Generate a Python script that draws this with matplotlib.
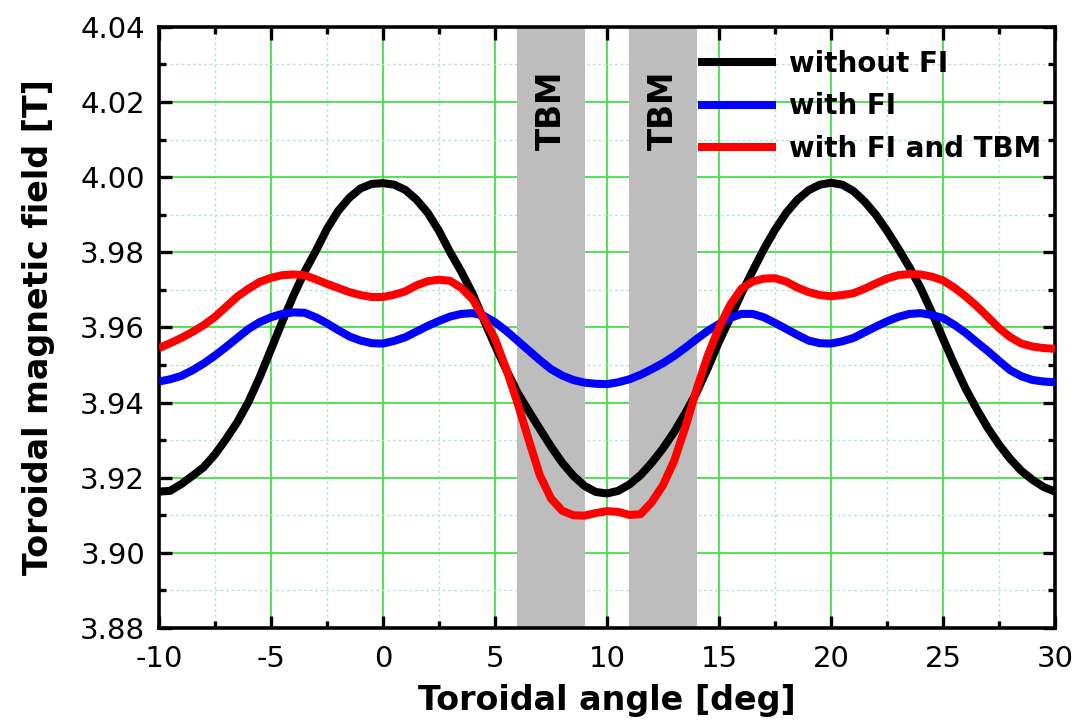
import numpy as np
import matplotlib
matplotlib.use("Agg")
import matplotlib.pyplot as plt
from matplotlib.ticker import MultipleLocator

# toroidal angle, 0.5 deg steps over two ripple periods
angle = np.arange(-10, 30.01, 0.5)

without_fi = [
    3.9163, 3.9165, 3.9183, 3.9205, 3.9228, 3.9262, 3.9303, 3.9348, 3.9402, 3.9468,
    3.9541, 3.9614, 3.9684, 3.9748, 3.9803, 3.9862, 3.9910, 3.9945, 3.9970, 3.9982,
    3.9984, 3.9980, 3.9966, 3.9940, 3.9905, 3.9857, 3.9800, 3.9748, 3.9690, 3.9620,
    3.9552, 3.9488, 3.9427, 3.9378, 3.9330, 3.9283, 3.9240, 3.9205, 3.9178, 3.9162,
    3.9158, 3.9165, 3.9182, 3.9207, 3.9240, 3.9278, 3.9322, 3.9372, 3.9427, 3.9492,
    3.9562, 3.9625, 3.9690, 3.9750, 3.9808, 3.9860, 3.9905, 3.9940, 3.9965, 3.9980,
    3.9985, 3.9980, 3.9963, 3.9935, 3.9900, 3.9857, 3.9810, 3.9760, 3.9705, 3.9640,
    3.9570, 3.9502, 3.9438, 3.9383, 3.9332, 3.9288, 3.9250, 3.9218, 3.9194, 3.9175,
    3.9163,
]

with_fi = [
    3.9456, 3.9462, 3.9471, 3.9486, 3.9504, 3.9525, 3.9548, 3.9572, 3.9596, 3.9614,
    3.9627, 3.9636, 3.9640, 3.9639, 3.9627, 3.9611, 3.9593, 3.9576, 3.9565, 3.9558,
    3.9557, 3.9564, 3.9574, 3.9589, 3.9604, 3.9617, 3.9629, 3.9636, 3.9638, 3.9631,
    3.9614, 3.9591, 3.9565, 3.9539, 3.9513, 3.9489, 3.9472, 3.9460, 3.9453, 3.9450,
    3.9449, 3.9454, 3.9462, 3.9474, 3.9489, 3.9505, 3.9524, 3.9546, 3.9569, 3.9591,
    3.9609, 3.9625, 3.9636, 3.9636, 3.9627, 3.9612, 3.9596, 3.9580, 3.9565, 3.9558,
    3.9557, 3.9563, 3.9572, 3.9587, 3.9602, 3.9616, 3.9628, 3.9636, 3.9638, 3.9633,
    3.9625, 3.9607, 3.9586, 3.9561, 3.9537, 3.9511, 3.9486, 3.9470, 3.9460, 3.9456,
    3.9454,
]

with_fi_tbm = [
    3.9545, 3.9558, 3.9572, 3.9588, 3.9606, 3.9628, 3.9655, 3.9682, 3.9703, 3.9721,
    3.9732, 3.9739, 3.9741, 3.9739, 3.9728, 3.9716, 3.9705, 3.9694, 3.9686, 3.9681,
    3.9681, 3.9687, 3.9696, 3.9712, 3.9723, 3.9727, 3.9724, 3.9705, 3.9675, 3.9625,
    3.9570, 3.9490, 3.9400, 3.9302, 3.9207, 3.9145, 3.9112, 3.9100, 3.9099, 3.9106,
    3.9111, 3.9109, 3.9101, 3.9103, 3.9135, 3.9180, 3.9245, 3.9335, 3.9435, 3.9525,
    3.9600, 3.9660, 3.9703, 3.9722, 3.9730, 3.9731, 3.9722, 3.9706, 3.9694, 3.9686,
    3.9683, 3.9686, 3.9691, 3.9703, 3.9717, 3.9730, 3.9739, 3.9742, 3.9741, 3.9735,
    3.9725, 3.9706, 3.9683, 3.9657, 3.9628, 3.9598, 3.9574, 3.9557, 3.9549, 3.9545,
    3.9543,
]

# TBM port sectors (deg)
tbm_sectors = [(6, 9), (11, 14)]

series = [
    (without_fi, "without FI", "#000000"),
    (with_fi, "with FI", "#0000ff"),
    (with_fi_tbm, "with FI and TBM", "#ff0000"),
]

plt.rcParams["font.family"] = "DejaVu Sans"
plt.rcParams["axes.unicode_minus"] = False

fig = plt.figure(figsize=(10.81, 7.26), dpi=100)
ax = fig.add_axes([0.147, 0.135, 0.829, 0.828])

for lo, hi in tbm_sectors:
    ax.axvspan(lo, hi, color="#bdbdbd", lw=0, zorder=1)
    ax.text((lo + hi) / 2, 4.0178, "TBM", rotation=90, ha="center", va="center",
            fontsize=23.5, fontweight="bold", zorder=2)

for vals, name, col in series:
    ax.plot(angle, vals, color=col, lw=5.8, label=name, zorder=3,
            solid_capstyle="butt", solid_joinstyle="round")

ax.set_xlim(-10, 30)
ax.set_ylim(3.88, 4.04)
ax.xaxis.set_major_locator(MultipleLocator(5))
ax.xaxis.set_minor_locator(MultipleLocator(2.5))
ax.yaxis.set_major_locator(MultipleLocator(0.02))
ax.yaxis.set_minor_locator(MultipleLocator(0.01))
ax.yaxis.set_major_formatter(plt.FormatStrFormatter("%.2f"))

# green grid, lighter dotted minor lines
ax.grid(which="major", color="#44e044", lw=1.3, zorder=0)
ax.grid(which="minor", color="#b8e6cc", lw=1.0, ls=(0, (2, 2)), zorder=0)
ax.set_axisbelow(True)

ax.tick_params(which="both", direction="in", top=True, right=True, width=2.4,
               labelsize=21)
ax.tick_params(which="major", length=9)
ax.tick_params(which="minor", length=5)
ax.tick_params(axis="x", pad=12)
ax.tick_params(axis="y", pad=10)
for s in ax.spines.values():
    s.set_linewidth(2.6)

ax.set_xlabel("Toroidal angle [deg]", fontsize=24, fontweight="bold", labelpad=8)
ax.set_ylabel("Toroidal magnetic field [T]", fontsize=24, fontweight="bold", labelpad=18)

leg = ax.legend(loc="upper left", bbox_to_anchor=(0.602, 0.962), frameon=False,
                fontsize=20, handlelength=2.8, handletextpad=0.45,
                labelspacing=0.53, borderpad=0, borderaxespad=0)
for t in leg.get_texts():
    t.set_fontweight("bold")

fig.savefig("out.png", dpi=100)
